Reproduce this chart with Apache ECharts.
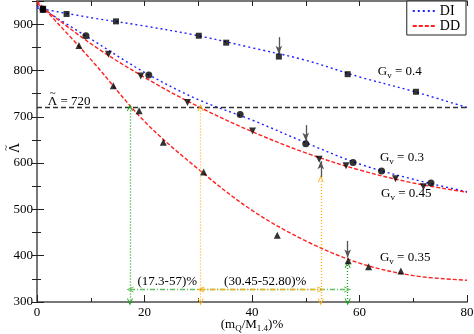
<!DOCTYPE html>
<html>
<head>
<meta charset="utf-8">
<script src="https://cdn.jsdelivr.net/npm/echarts@6/dist/echarts.min.js"></script>
<style>
  html, body { margin: 0; padding: 0; background: #fff; }
  #chart { width: 474px; height: 334px; }
</style>
</head>
<body>
<div id="chart"></div>
<script>
  // fitted curves, every 10 %
  const fitX = [0, 10, 20, 30, 40, 50, 60, 70, 80];
  const di04Fit = [935, 914, 896, 875, 849, 822, 786, 755, 720];
  const di03Fit = [940, 868, 796, 737, 693, 644, 598, 565, 538];
  const dd045Fit = [945, 858, 785, 722, 668, 622, 585, 557, 537];
  const dd035Fit = [950, 824, 690, 587, 498, 432, 384, 357, 347];

  // markers
  const gv04X = [1.1, 5.5, 14.7, 30.1, 35.2, 45.0, 57.8, 70.5];
  const gv04Y = [932, 922, 906, 875, 860, 830, 792, 754];
  const gv03X = [1.1, 9.1, 20.8, 37.8, 50.0, 58.8, 64.1, 73.3];
  const gv03Y = [932, 875, 790, 705, 642, 601, 583, 557];
  const gv045X = [1.1, 13.3, 19.3, 28.0, 40.1, 52.5, 57.5, 66.7, 71.9];
  const gv045Y = [932, 835, 788, 731, 669, 608, 594, 566, 549];
  const gv035X = [1.1, 7.8, 14.2, 19.0, 23.5, 31.0, 44.7, 57.9, 61.7, 67.7];
  const gv035Y = [932, 854, 767, 713, 645, 581, 444, 389, 376, 367];

  // annotations
  const lambdaCut = 720;
  const rangeLo = [17.3, 57.8];    // green
  const rangeHi = [30.45, 52.8];   // orange
  const rangeY = 327;
  const xTicks = [0, 20, 40, 60, 80];

  const zip = (xs, ys) => xs.map((x, i) => [x, ys[i]]);

  const serif = "'Times New Roman', 'Liberation Serif', serif";
  const chev = 'path://M0,10 L5,0 L10,10 L8.4,10 L5,3.2 L1.6,10 Z';
  const green = '#12a012';
  const orange = '#ffae1a';
  const gray = '#555';

  let myChart = echarts.init(document.getElementById('chart'));

  function fitLine(name, ys, color, type) {
    return {
      name: name, type: 'line', data: zip(fitX, ys), smooth: 0.35,
      symbol: 'none', silent: true, z: 2,
      lineStyle: { color: color, width: 1.4, type: type }
    };
  }
  function marks(xs, ys, symbol, size, rot) {
    return {
      type: 'scatter', data: zip(xs, ys), symbol: symbol, symbolSize: size,
      symbolRotate: rot || 0, itemStyle: { color: '#000' }, silent: true, z: 5
    };
  }
  function seg(a, b, color, type, sym, symSize) {
    return [
      { coord: a, symbol: sym[0], symbolSize: symSize,
        lineStyle: { color: color, type: type, width: 1.3 }, itemStyle: { color: color } },
      { coord: b, symbol: sym[1], symbolSize: symSize, itemStyle: { color: color } }
    ];
  }

  const axisLineStyle = { color: '#777', width: 2 };

  let option = {
    animation: false,
    grid: { left: 37, right: 7, top: 1, bottom: 32, outerBoundsMode: 'none' },
    legend: {
      right: 8, top: 1, orient: 'vertical',
      padding: [3, 6, 2, 5], itemGap: 1, itemWidth: 22, itemHeight: 10,
      borderColor: '#222', borderWidth: 1, borderRadius: 0, backgroundColor: '#fff',
      itemStyle: { opacity: 0 },
      textStyle: { fontFamily: serif, fontSize: 14, color: '#000' },
      data: ['DI', 'DD']
    },
    xAxis: [{
      type: 'value', min: 0, max: 80, interval: 20,
      axisLine: { lineStyle: axisLineStyle },
      axisTick: { inside: true, length: 7, lineStyle: { color: '#222' } },
      minorTick: { show: true, splitNumber: 2, length: 4, lineStyle: { color: '#222' } },
      axisLabel: { margin: 4, fontFamily: serif, fontSize: 13, color: '#000',
        formatter: v => xTicks.indexOf(v) >= 0 ? String(v) : '' },
      splitLine: { show: false }
    }, {
      type: 'value', min: 0, max: 80, interval: 10, position: 'top',
      axisLine: { show: true, lineStyle: axisLineStyle },
      axisTick: { inside: true, length: 5, lineStyle: { color: '#222' } },
      axisLabel: { show: false }, splitLine: { show: false }
    }],
    yAxis: [{
      type: 'value', min: 300, max: 950, interval: 100,
      axisLine: { show: true, lineStyle: axisLineStyle },
      axisTick: { inside: true, length: 7, lineStyle: { color: '#222' } },
      minorTick: { show: true, splitNumber: 2, length: 4, lineStyle: { color: '#222' } },
      axisLabel: { margin: 4, fontFamily: serif, fontSize: 13, color: '#000',
        formatter: v => (v % 100 === 0 ? String(v) : '') },
      splitLine: { show: false }
    }, {
      type: 'value', min: 300, max: 950, interval: 50, position: 'right',
      axisLine: { show: true, lineStyle: axisLineStyle },
      axisTick: { inside: true, length: 5, lineStyle: { color: '#222' } },
      axisLabel: { show: false }, splitLine: { show: false }
    }],
    series: [
      fitLine('DI', di04Fit, '#2020ff', [2, 3]),
      fitLine('DI', di03Fit, '#2020ff', [2, 3]),
      fitLine('DD', dd045Fit, '#ff2020', [4, 2]),
      fitLine('DD', dd035Fit, '#ff2020', [4, 2]),
      marks(gv04X, gv04Y, 'rect', 6),
      marks(gv03X, gv03Y, 'circle', 7),
      marks(gv045X, gv045Y, 'triangle', 7, 180),
      marks(gv035X, gv035Y, 'triangle', 7),
      {
        // guide lines and arrows
        type: 'line', data: [], silent: true, z: 3,
        markLine: {
          silent: true, animation: false, label: { show: false },
          emphasis: { disabled: true },
          data: [
            seg([0, lambdaCut], [80, lambdaCut], '#333', [5, 3], ['none', 'none'], 0),
            seg([rangeLo[0], lambdaCut], [rangeLo[0], 300], green, [1, 2], [chev, chev], [6, 7]),
            seg([rangeHi[0], lambdaCut], [rangeHi[0], 300], orange, [1, 2], [chev, chev], [6, 7]),
            seg([rangeHi[1], 300], [rangeHi[1], 566], orange, [1, 2], [chev, chev], [6, 7]),
            seg([rangeLo[1], 300], [rangeLo[1], 381], green, [1, 2], [chev, chev], [6, 7]),
            seg([rangeLo[0], rangeY], [rangeLo[1], rangeY], '#5cc05c', [5, 2, 1, 2], [chev, chev], [6, 7]),
            seg([rangeHi[0], rangeY], [rangeHi[1], rangeY], orange, [5, 2, 1, 2], [chev, chev], [6, 7]),
            seg([45.0, 872], [45.0, 836], gray, 'solid', ['none', 'arrow'], [5, 8]),
            seg([50.0, 682], [50.0, 648], gray, 'solid', ['none', 'arrow'], [5, 8]),
            seg([52.8, 570], [52.8, 604], gray, 'solid', ['none', 'arrow'], [5, 8]),
            seg([57.8, 432], [57.8, 396], gray, 'solid', ['none', 'arrow'], [5, 8])
          ]
        }
      }
    ]
  };
  myChart.setOption(option);

  // text labels placed at data coordinates
  const rich = {
    n: { fontFamily: serif, fontSize: 13, color: '#000' },
    s: { fontFamily: serif, fontSize: 9, color: '#000', padding: [8, 0, 0, 0] },
    t: { fontFamily: serif, fontSize: 11, color: '#000', lineHeight: 4, padding: [0, 0, 0, 2] },
    tc: { fontFamily: serif, fontSize: 11, color: '#000', lineHeight: 4, align: 'center' },
    nc: { fontFamily: serif, fontSize: 14, color: '#000', lineHeight: 13, align: 'center' }
  };
  const labels = [
    { t: '{t|~}\n{n|\u039B = 720}', at: [2.0, 737] },
    { t: '{n|G}{s|v}{n| = 0.4}', at: [63.4, 797] },
    { t: '{n|G}{s|v}{n| = 0.3}', at: [63.8, 611] },
    { t: '{n|G}{s|v}{n| = 0.45}', at: [64.0, 535] },
    { t: '{n|G}{s|v}{n| = 0.35}', at: [63.8, 395] },
    { t: '{n|(17.3-57)%}', at: [18.7, 345] },
    { t: '{n|(30.45-52.80)%}', at: [34.8, 345] }
  ];
  const texts = labels.map(l => {
    const p = myChart.convertToPixel({ xAxisIndex: 0, yAxisIndex: 0 }, l.at);
    return {
      type: 'text', x: p[0], y: p[1], silent: true, z: 10,
      style: { text: l.t, rich: rich, verticalAlign: 'middle', align: 'left' }
    };
  });
  // x axis title
  texts.push({
    type: 'text', x: 252, y: 325, silent: true, z: 10,
    style: { text: '{n|(m}{s|Q}{n|/M}{s|1.4}{n|)%}', rich: rich, align: 'center', verticalAlign: 'middle' }
  });
  // y axis title, turned to read upwards
  texts.push({
    type: 'text', x: 13, y: 148, rotation: Math.PI / 2, silent: true, z: 10,
    style: { text: '{tc|~}\n{nc|\u039B}', rich: rich, align: 'center', verticalAlign: 'middle' }
  });
  myChart.setOption({ graphic: texts });
</script>
</body>
</html>
